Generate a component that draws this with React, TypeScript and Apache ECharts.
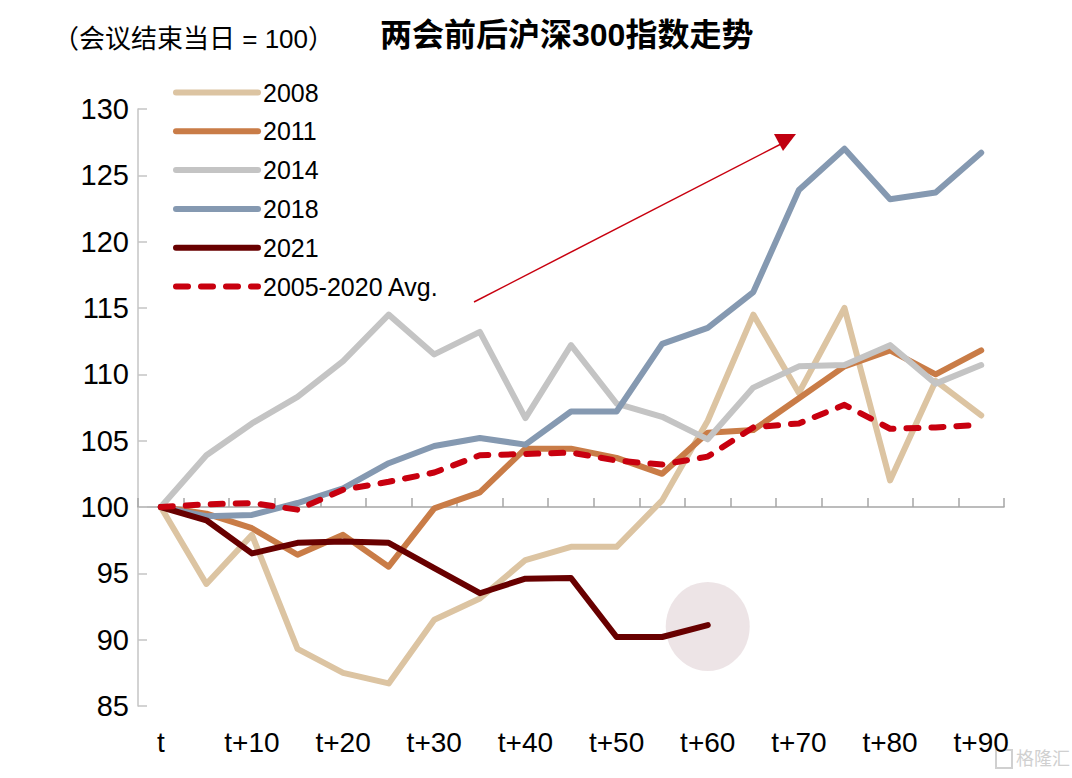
import React, { useEffect, useRef } from "react";
import * as echarts from "echarts";

const categories = ["t","t+5","t+10","t+15","t+20","t+25","t+30","t+35","t+40","t+45","t+50","t+55","t+60","t+65","t+70","t+75","t+80","t+85","t+90"];
const s2008 = [100, 94.2, 97.9, 89.3, 87.5, 86.7, 91.5, 93.1, 96.0, 97.0, 97.0, 100.5, 106.5, 114.5, 108.6, 115.0, 102.0, 109.5, 106.9];
const s2011 = [100, 99.5, 98.4, 96.4, 97.9, 95.5, 99.9, 101.1, 104.4, 104.4, 103.7, 102.5, 105.6, 105.8, 108.2, 110.6, 111.8, 110.0, 111.8];
const s2014 = [100, 103.9, 106.3, 108.3, 111.0, 114.5, 111.5, 113.2, 106.7, 112.2, 107.8, 106.8, 105.1, 109.0, 110.6, 110.7, 112.2, 109.3, 110.7];
const s2018 = [100, 99.3, 99.4, 100.3, 101.4, 103.3, 104.6, 105.2, 104.7, 107.2, 107.2, 112.3, 113.5, 116.2, 123.9, 127.0, 123.2, 123.7, 126.7];
const s2021 = [100, 99.0, 96.5, 97.3, 97.4, 97.3, 95.4, 93.5, 94.6, 94.65, 90.2, 90.2, 91.1];
const sAvg = [100, 100.2, 100.3, 99.8, 101.3, 101.9, 102.6, 103.9, 104.0, 104.1, 103.5, 103.2, 103.8, 106.0, 106.3, 107.7, 105.9, 106.0, 106.2];
const highlightPoint = ["t+60", 91];
const yTicks = { min: 85, max: 130, interval: 5 };

const FONT = "'Liberation Sans', Arial, 'Noto Sans CJK SC', sans-serif";

export default function App() {
  const ref = useRef<HTMLDivElement>(null);
  useEffect(() => {
    if (!ref.current) return;
    const chart = echarts.init(ref.current, null, { renderer: "svg" });
    const lineSeries = (name: string, data: number[], color: string, type: any = "solid", z = 3) => ({
      name,
      type: "line",
      data,
      symbol: "none",
      z,
      lineStyle: { color, width: 6, type, cap: "round", join: "round" },
      itemStyle: { color },
    });
    chart.setOption({
      animation: false,
      backgroundColor: "#ffffff",
      textStyle: { fontFamily: FONT },
      title: [
        { text: "两会前后沪深300指数走势", left: 375, top: 14, textStyle: { fontSize: 32, fontWeight: "bold", color: "#000", fontFamily: FONT } },
        { text: "（会议结束当日 = 100）", left: 48, top: 21, textStyle: { fontSize: 26, fontWeight: "normal", color: "#000", fontFamily: FONT } },
      ],
      legend: {
        orient: "vertical",
        left: 168,
        top: 75,
        itemWidth: 82,
        itemHeight: 24,
        itemGap: 13.8,
        itemStyle: { opacity: 0 },
        lineStyle: { width: 6, cap: "round" },
        data: ["2008", "2011", "2014", "2018", "2021", "2005-2020 Avg."],
        textStyle: { fontSize: 25, color: "#000", fontFamily: FONT, lineHeight: 24 },
      },
      grid: { left: 138, top: 109, width: 866, height: 597, containLabel: false },
      xAxis: [
        {
          type: "category",
          data: categories,
          boundaryGap: true,
          axisLine: { show: false },
          axisTick: { show: false },
          axisLabel: { interval: 1, fontSize: 28, color: "#000", margin: 22, fontFamily: FONT },
        },
        {
          type: "category",
          data: categories,
          boundaryGap: true,
          position: "bottom",
          offset: -199,
          axisLine: { show: true, lineStyle: { color: "#a6a6a6", width: 1.5 } },
          axisTick: { show: true, inside: true, length: 9, interval: 0, lineStyle: { color: "#a6a6a6", width: 1.5 } },
          axisLabel: { show: false },
        },
      ],
      yAxis: {
        type: "value",
        min: yTicks.min,
        max: yTicks.max,
        interval: yTicks.interval,
        axisLine: { show: true, lineStyle: { color: "#c4c4c4", width: 1.5 } },
        axisTick: { show: true, inside: true, length: 9, lineStyle: { color: "#c4c4c4", width: 1.5 } },
        splitLine: { show: false },
        axisLabel: { fontSize: 29, color: "#000", margin: 9, fontFamily: FONT },
      },
      series: [
        {
          name: "highlight",
          type: "scatter",
          data: [highlightPoint],
          symbol: "circle",
          symbolSize: [84, 89],
          itemStyle: { color: "#e9dde0" },
          z: 1,
          silent: true,
        },
        lineSeries("2008", s2008, "#dcc4a2"),
        lineSeries("2011", s2011, "#c97c47"),
        lineSeries("2014", s2014, "#c4c4c4"),
        lineSeries("2018", s2018, "#8599b1"),
        lineSeries("2021", s2021, "#680000"),
        lineSeries("2005-2020 Avg.", sAvg, "#c8000f", [12, 13], 4),
      ],
      graphic: [
        { type: "line", shape: { x1: 474, y1: 302, x2: 781, y2: 144 }, style: { stroke: "#c8000f", lineWidth: 1.5 } },
        { type: "polygon", shape: { points: [[796, 134], [774, 134], [783, 151]] }, style: { fill: "#c00010" } },
        { type: "text", x: 1016, y: 748, style: { text: "格隆汇", fontSize: 18, fill: "#d0d0d0", fontFamily: "'Noto Sans CJK SC', sans-serif" } },
        { type: "rect", shape: { x: 996, y: 750, width: 16, height: 18 }, style: { fill: "none", stroke: "#d0d0d0", lineWidth: 2 } },
      ],
    });
    return () => chart.dispose();
  }, []);
  return <div ref={ref} style={{ position: "fixed", left: 0, top: 0, width: 1072, height: 778 }} />;
}
